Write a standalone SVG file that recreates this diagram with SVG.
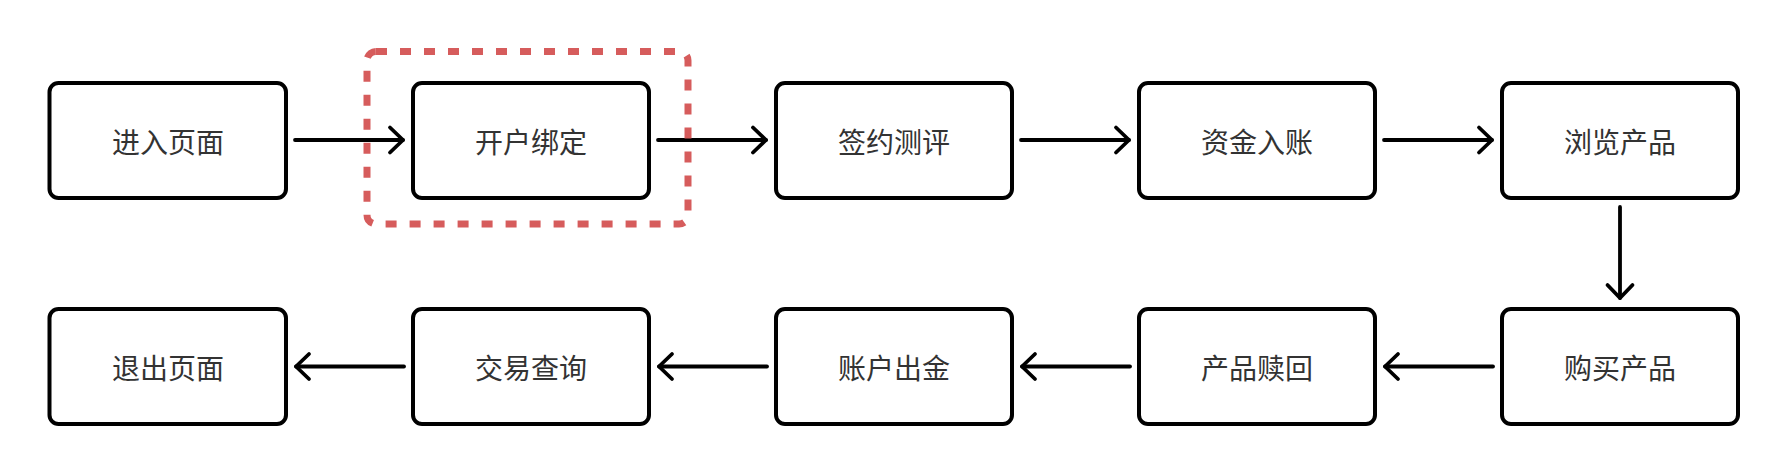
<svg xmlns="http://www.w3.org/2000/svg" width="1788" height="476" viewBox="0 0 1788 476">
<style>
.box{fill:#fff;stroke:#000;stroke-width:4}
.lbl{font-family:"Noto Sans CJK SC","Noto Sans",sans-serif;font-size:28px;fill:#333;text-anchor:middle}
.edge{fill:none;stroke:#000;stroke-width:3.8;stroke-linecap:round;stroke-linejoin:round}
.hl{fill:none;stroke:#D65C5C;stroke-width:7;stroke-dasharray:11 13}
</style>
<defs>
<marker id="arr" markerUnits="userSpaceOnUse" markerWidth="40" markerHeight="40" viewBox="-20 -20 40 40" refX="0" refY="0" orient="auto" overflow="visible">
<path d="M-13,-12.5 L0,0 L-13,12.5" fill="none" stroke="#000" stroke-width="3.8" stroke-linecap="round" stroke-linejoin="round"/>
</marker>
</defs>
<rect width="1788" height="476" fill="#fff"/>
<g id="connectors">
<path class="edge" d="M295,140 H403" marker-end="url(#arr)"/>
<path class="edge" d="M658,140 H766" marker-end="url(#arr)"/>
<path class="edge" d="M1021,140 H1129" marker-end="url(#arr)"/>
<path class="edge" d="M1384,140 H1492" marker-end="url(#arr)"/>
<path class="edge" d="M1620,207 V298" marker-end="url(#arr)"/>
<path class="edge" d="M1493,366.5 H1385" marker-end="url(#arr)"/>
<path class="edge" d="M1130,366.5 H1022" marker-end="url(#arr)"/>
<path class="edge" d="M767,366.5 H659" marker-end="url(#arr)"/>
<path class="edge" d="M404,366.5 H296" marker-end="url(#arr)"/>
</g>
<g id="n1"><rect class="box" x="49.5" y="83" width="236.5" height="115" rx="9"/><text class="lbl" x="168" y="152.5">进入页面</text></g>
<g id="n2"><rect class="box" x="413" y="83" width="236" height="115" rx="9"/><text class="lbl" x="531" y="152.5">开户绑定</text></g>
<g id="n3"><rect class="box" x="776" y="83" width="236" height="115" rx="9"/><text class="lbl" x="894" y="152.5">签约测评</text></g>
<g id="n4"><rect class="box" x="1139" y="83" width="236" height="115" rx="9"/><text class="lbl" x="1257" y="152.5">资金入账</text></g>
<g id="n5"><rect class="box" x="1502" y="83" width="236" height="115" rx="9"/><text class="lbl" x="1620" y="152.5">浏览产品</text></g>
<g id="n6"><rect class="box" x="1502" y="309" width="236" height="115" rx="9"/><text class="lbl" x="1620" y="379">购买产品</text></g>
<g id="n7"><rect class="box" x="1139" y="309" width="236" height="115" rx="9"/><text class="lbl" x="1257" y="379">产品赎回</text></g>
<g id="n8"><rect class="box" x="776" y="309" width="236" height="115" rx="9"/><text class="lbl" x="894" y="379">账户出金</text></g>
<g id="n9"><rect class="box" x="413" y="309" width="236" height="115" rx="9"/><text class="lbl" x="531" y="379">交易查询</text></g>
<g id="n10"><rect class="box" x="49.5" y="309" width="236.5" height="115" rx="9"/><text class="lbl" x="168" y="379">退出页面</text></g>
<g id="highlight"><rect class="hl" x="367" y="51.5" width="321" height="172.5" rx="9"/></g>
</svg>
